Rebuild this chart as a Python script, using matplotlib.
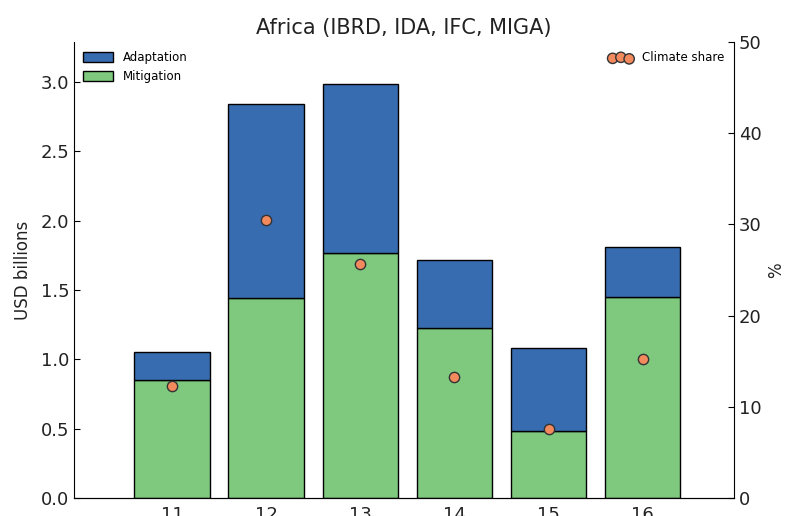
import matplotlib
matplotlib.use('Agg')
import matplotlib.pyplot as plt

# Datos
years = [11, 12, 13, 14, 15, 16]
mitigation = [0.85, 1.44, 1.77, 1.23, 0.48, 1.45]
adaptation = [0.20, 1.40, 1.22, 0.49, 0.60, 0.36]
climate_share = [12.3, 30.5, 25.7, 13.3, 7.6, 15.2]

blue = '#386cb0'
green = '#7fc97f'
orange = '#f28a5e'

fig = plt.figure(figsize=(7.85, 5.16), dpi=100)
ax = fig.add_axes([0.0943, 0.0349, 0.8407, 0.8837])

ax.bar(years, mitigation, width=0.8, color=green, edgecolor='black', linewidth=1, label='Mitigation')
ax.bar(years, adaptation, width=0.8, bottom=mitigation, color=blue, edgecolor='black', linewidth=1, label='Adaptation')
ax.set_xlim(9.96, 16.97)
ax.set_ylim(0, 3.29)
ax.set_xticks(years)
ax.set_yticks([0, 0.5, 1.0, 1.5, 2.0, 2.5, 3.0])
ax.set_ylabel('USD billions', fontsize=12, color='#222222', labelpad=6)
ax.set_title('Africa (IBRD, IDA, IFC, MIGA)', fontsize=15, color='#222222')
ax.spines['top'].set_visible(False)
ax.spines['right'].set_visible(False)
ax.tick_params(axis='both', direction='in', labelsize=13, labelcolor='#222222', length=4)
ax.tick_params(axis='x', length=0, pad=6)
ax.yaxis.set_ticks_position('left')

handles, labels = ax.get_legend_handles_labels()
ax.legend(handles[::-1], labels[::-1], loc='upper left', frameon=False, fontsize=8.5,
          handlelength=2.5, handleheight=0.9, borderaxespad=0.4)

ax2 = ax.twinx()
ax2.scatter(years, climate_share, s=55, color=orange, edgecolor='#333333', linewidth=1,
            zorder=5, label='Climate share')
ax2.set_ylim(0, 50)
ax2.set_yticks([0, 10, 20, 30, 40, 50])
ax2.set_ylabel('%', fontsize=12, color='#222222', labelpad=4)
ax2.spines['top'].set_visible(False)
ax2.spines['left'].set_visible(False)
ax2.tick_params(axis='y', direction='in', labelsize=13, labelcolor='#222222', length=4)
ax2.legend(loc='upper right', frameon=False, fontsize=8.5, scatterpoints=3, borderaxespad=0.4)

plt.savefig('out.png', dpi=100)
